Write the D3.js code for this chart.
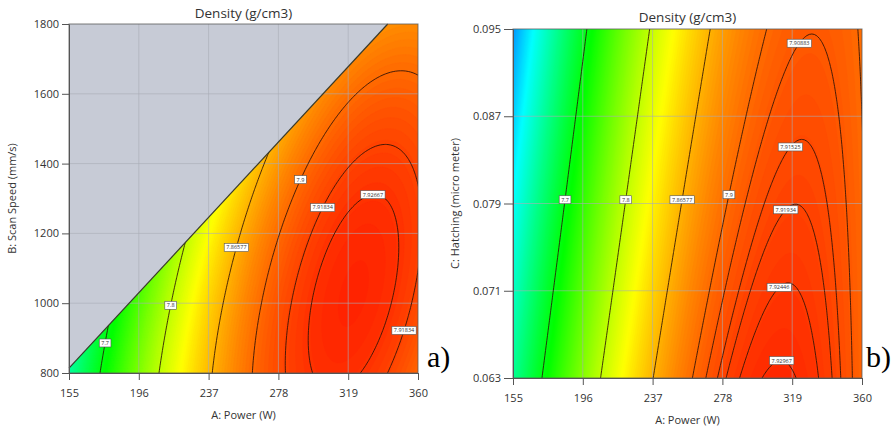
<!DOCTYPE html>
<html>
<head>
<meta charset="utf-8">
<script src="https://cdn.jsdelivr.net/npm/d3@7"></script>
<style>
body { margin: 0; background: #fff; }
svg text { font-family: "Open Sans", "Noto Sans", sans-serif; }
</style>
</head>
<body>
<svg id="chart" width="894" height="429"></svg>
<script>
// tick values of the three factors
var powerTicks = [155, 196, 237, 278, 319, 360];
var speedTicks = [800, 1000, 1200, 1400, 1600, 1800];
var hatchTicks = [0.063, 0.071, 0.079, 0.087, 0.095];

// fitted quadratic response surface (coded units): const, A, X, A*X, A^2, X^2
var modelSpeed = [7.8576, 0.1863, -0.0621, 0.0534, -0.1247, -0.0261];
var modelHatch = [7.87125, 0.155, -0.02589, 0.02375, -0.125, -0.00073];

// contour levels shown on each plot
var levelsSpeed = [7.7, 7.8, 7.86577, 7.9, 7.91834, 7.92667];
var levelsHatch = [7.7, 7.8, 7.86577, 7.9, 7.90883, 7.91525, 7.91934, 7.92446, 7.92967];

// where the contour labels sit: [power, second factor, level]
var labelsSpeed = [[175.6, 884, 7.7], [214.3, 998, 7.8], [252.5, 1159, 7.86577], [290.1, 1359, 7.9],
                   [303, 1273, 7.91834], [334.2, 1310, 7.92667], [352.4, 924, 7.91834]];
var labelsHatch = [[185.7, 0.0793, 7.7], [221.4, 0.0793, 7.8], [254.9, 0.0793, 7.86577], [282.2, 0.0798, 7.9],
                   [316.5, 0.0782, 7.91934], [323.8, 0.0937, 7.90883], [318.5, 0.0842, 7.91525],
                   [314.4, 0.0709, 7.92446], [313.6, 0.0649, 7.92967]];

// design constraint edge on the power / scan speed plot
var edgePower = [155, 342.2];
var edgeSpeed = [814, 1800];

// colour ramp of the response
var colorStops = [7.47, 7.59, 7.71, 7.83, 7.95];
var colorRange = ["#0000ff", "#00ffff", "#00ff00", "#ffff00", "#ff0000"];

var svg = d3.select("#chart");
var color = d3.scaleLinear().domain(colorStops).range(colorRange).clamp(true);

function evalModel(m, a, b) {
    return m[0] + m[1] * a + m[2] * b + m[3] * a * b + m[4] * a * a + m[5] * b * b;
}

function drawPanel(o) {
    var w = 349, h = 349;
    var x = d3.scaleLinear().domain([155, 360]).range([0, w]);
    var y = d3.scaleLinear().domain(o.yDomain).range([h, 0]);
    var g = svg.append("g").attr("transform", "translate(" + o.left + "," + o.top + ")");

    // sample the surface on a grid a bit larger than the plot
    var n = 150, m = 150;
    var padA = 205 * 0.04, padY = (o.yDomain[1] - o.yDomain[0]) * 0.04;
    var A0 = 155 - padA, A1 = 360 + padA;
    var Y0 = o.yDomain[0] - padY, Y1 = o.yDomain[1] + padY;
    var midY = (o.yDomain[0] + o.yDomain[1]) / 2, halfY = (o.yDomain[1] - o.yDomain[0]) / 2;
    var values = new Array(n * m);
    for (var j = 0; j < m; j++) {
        for (var i = 0; i < n; i++) {
            var A = A0 + (i + 0.5) * (A1 - A0) / n;
            var Y = Y0 + (j + 0.5) * (Y1 - Y0) / m;
            values[j * n + i] = evalModel(o.model, (A - 257.5) / 102.5, (Y - midY) / halfY);
        }
    }
    var proj = d3.geoTransform({
        point: function(gx, gy) {
            this.stream.point(x(A0 + gx * (A1 - A0) / n), y(Y0 + gy * (Y1 - Y0) / m));
        }
    });
    var path = d3.geoPath(proj);

    var clipId = "clip-" + o.name;
    var feasible;
    if (o.edge) {
        feasible = [[155, o.yDomain[0]], [360, o.yDomain[0]], [360, o.yDomain[1]],
                    [o.edge[0][1], o.edge[1][1]], [o.edge[0][0], o.edge[1][0]]];
    } else {
        feasible = [[155, o.yDomain[0]], [360, o.yDomain[0]], [360, o.yDomain[1]], [155, o.yDomain[1]]];
    }
    g.append("clipPath").attr("id", clipId)
        .append("polygon")
        .attr("points", feasible.map(function(p) { return x(p[0]) + "," + y(p[1]); }).join(" "));

    // colour bands
    var bandThr = d3.range(7.3, 7.96, 0.0025);
    var bands = d3.contours().size([n, m]).thresholds(bandThr)(values);
    g.append("g").attr("clip-path", "url(#" + clipId + ")")
        .selectAll("path").data(bands).enter().append("path")
        .attr("d", path)
        .attr("fill", function(d) { return color(d.value + 0.00125); })
        .attr("stroke", function(d) { return color(d.value + 0.00125); })
        .attr("stroke-width", 0.4);

    // infeasible region
    if (o.edge) {
        var grey = [[o.edge[0][0], o.edge[1][0]], [o.edge[0][1], o.edge[1][1]], [155, o.yDomain[1]]];
        g.append("polygon")
            .attr("points", grey.map(function(p) { return x(p[0]) + "," + y(p[1]); }).join(" "))
            .attr("fill", "#c7cbd6");
    }

    // grid
    g.append("g").selectAll("line").data(powerTicks.slice(1, -1)).enter().append("line")
        .attr("x1", function(d) { return x(d); }).attr("x2", function(d) { return x(d); })
        .attr("y1", 0).attr("y2", h)
        .attr("stroke", "#a8acb6").attr("stroke-opacity", 0.6);
    g.append("g").selectAll("line").data(o.yTicks.slice(1, -1)).enter().append("line")
        .attr("y1", function(d) { return y(d); }).attr("y2", function(d) { return y(d); })
        .attr("x1", 0).attr("x2", w)
        .attr("stroke", "#a8acb6").attr("stroke-opacity", 0.6);

    // contour lines
    var lines = d3.contours().size([n, m]).thresholds(o.levels)(values);
    g.append("g").attr("clip-path", "url(#" + clipId + ")")
        .selectAll("path").data(lines).enter().append("path")
        .attr("d", path)
        .attr("fill", "none")
        .attr("stroke", "#2a1208")
        .attr("stroke-opacity", 0.85)
        .attr("stroke-width", 1);

    if (o.edge) {
        g.append("line")
            .attr("x1", x(o.edge[0][0])).attr("y1", y(o.edge[1][0]))
            .attr("x2", x(o.edge[0][1])).attr("y2", y(o.edge[1][1]))
            .attr("stroke", "#3a3a2a").attr("stroke-width", 1.2);
    }

    // contour labels snapped onto their line
    function inside(px, py) {
        if (px < 2 || px > w - 2 || py < 2 || py > h - 2) return false;
        if (o.edge) {
            var A = x.invert(px), Y = y.invert(py);
            var lim = o.edge[1][0] + (A - o.edge[0][0]) * (o.edge[1][1] - o.edge[1][0]) / (o.edge[0][1] - o.edge[0][0]);
            if (Y > lim) return false;
        }
        return true;
    }
    o.labels.forEach(function(lb) {
        var geo = d3.contours().size([n, m]).thresholds([lb[2]])(values)[0];
        var tx = x(lb[0]), ty = y(lb[1]);
        var best = null, bestD = Infinity;
        geo.coordinates.forEach(function(poly) {
            poly.forEach(function(ring) {
                ring.forEach(function(pt) {
                    var px = x(A0 + pt[0] * (A1 - A0) / n), py = y(Y0 + pt[1] * (Y1 - Y0) / m);
                    if (!inside(px, py)) return;
                    var dd = (px - tx) * (px - tx) + (py - ty) * (py - ty);
                    if (dd < bestD) { bestD = dd; best = [px, py]; }
                });
            });
        });
        if (!best) best = [tx, ty];
        var lg = g.append("g").attr("transform", "translate(" + best[0] + "," + best[1] + ")");
        var rect = lg.append("rect");
        var t = lg.append("text")
            .attr("text-anchor", "middle").attr("dy", "0.35em")
            .attr("font-size", "5.5px").attr("fill", "#333")
            .text(String(lb[2]));
        var tw = t.node().getComputedTextLength();
        rect.attr("x", -tw / 2 - 2).attr("y", -4).attr("width", tw + 4).attr("height", 8)
            .attr("fill", "#fff").attr("stroke", "#555").attr("stroke-width", 0.6);
    });

    // frame and axes
    g.append("rect").attr("width", w).attr("height", h)
        .attr("fill", "none").attr("stroke", "#5a5a5a").attr("stroke-opacity", 0.8);

    var xAxis = g.append("g").attr("transform", "translate(0," + h + ")")
        .call(d3.axisBottom(x).tickValues(powerTicks).tickSize(7).tickPadding(9).tickSizeOuter(0));
    var yAxis = g.append("g")
        .call(d3.axisLeft(y).tickValues(o.yTicks).tickFormat(o.yFormat).tickSize(o.tickLen).tickPadding(3).tickSizeOuter(0));
    [xAxis, yAxis].forEach(function(ax) {
        ax.attr("font-family", null).attr("font-size", null);
        ax.select(".domain").attr("stroke", "#555");
        ax.selectAll(".tick line").attr("stroke", "#555");
        ax.selectAll(".tick text").attr("fill", "#333").style("font-size", "11px");
    });

    g.append("text").attr("x", w / 2).attr("y", o.titleY)
        .attr("text-anchor", "middle").attr("fill", "#333").style("font-size", "13.5px")
        .text("Density (g/cm3)");
    g.append("text").attr("x", w / 2).attr("y", h + 46)
        .attr("text-anchor", "middle").attr("fill", "#333").style("font-size", "11px")
        .text("A: Power (W)");
    g.append("text").attr("transform", "rotate(-90)")
        .attr("x", -h / 2).attr("y", o.yTitleX)
        .attr("text-anchor", "middle").attr("fill", "#333").style("font-size", "11px")
        .text(o.yTitle);
}

drawPanel({
    name: "a", left: 69, top: 24,
    yDomain: [800, 1800], yTicks: speedTicks, yFormat: d3.format("d"), tickLen: 7,
    model: modelSpeed, levels: levelsSpeed, labels: labelsSpeed,
    edge: [edgePower, edgeSpeed],
    titleY: -6.5, yTitleX: -53, yTitle: "B: Scan Speed (mm/s)"
});
drawPanel({
    name: "b", left: 513, top: 29,
    yDomain: [0.063, 0.095], yTicks: hatchTicks, yFormat: d3.format(".3f"), tickLen: 9,
    model: modelHatch, levels: levelsHatch, labels: labelsHatch,
    edge: null,
    titleY: -7, yTitleX: -54, yTitle: "C: Hatching (micro meter)"
});

svg.append("text").attr("x", 427).attr("y", 367)
    .style("font-family", "'Liberation Serif', 'DejaVu Serif', serif").style("font-size", "30px")
    .text("a)");
svg.append("text").attr("x", 866).attr("y", 367)
    .style("font-family", "'Liberation Serif', 'DejaVu Serif', serif").style("font-size", "30px")
    .text("b)");
</script>
</body>
</html>
